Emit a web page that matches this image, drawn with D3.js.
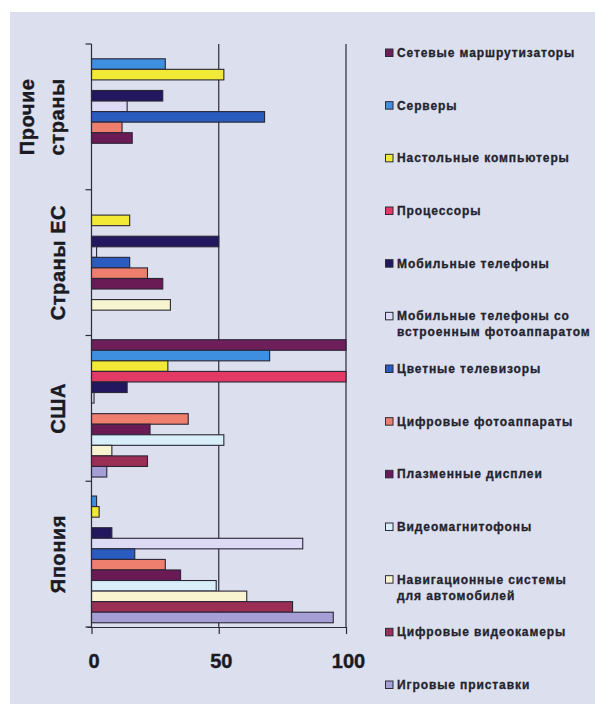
<!DOCTYPE html>
<html>
<head>
<meta charset="utf-8">
<script src="https://cdn.jsdelivr.net/npm/d3@7"></script>
<style>
  html, body { margin: 0; padding: 0; background: #ffffff; }
  svg { display: block; }
</style>
</head>
<body>
<svg id="chart" width="595" height="704"></svg>
<script>
// Regions, listed top to bottom as drawn
const regions = ["Прочие страны", "Страны ЕС", "США", "Япония"];
const regionLines = [["Прочие", "страны"], ["Страны ЕС"], ["США"], ["Япония"]];

// Product groups, in legend order (also top-to-bottom order inside each region)
const products = [
  "Сетевые маршрутизаторы",
  "Серверы",
  "Настольные компьютеры",
  "Процессоры",
  "Мобильные телефоны",
  "Мобильные телефоны со встроенным фотоаппаратом",
  "Цветные телевизоры",
  "Цифровые фотоаппараты",
  "Плазменные дисплеи",
  "Видеомагнитофоны",
  "Навигационные системы для автомобилей",
  "Цифровые видеокамеры",
  "Игровые приставки"
];
const legendLines = [
  ["Сетевые маршрутизаторы"],
  ["Серверы"],
  ["Настольные компьютеры"],
  ["Процессоры"],
  ["Мобильные телефоны"],
  ["Мобильные телефоны со", "встроенным фотоаппаратом"],
  ["Цветные телевизоры"],
  ["Цифровые фотоаппараты"],
  ["Плазменные дисплеи"],
  ["Видеомагнитофоны"],
  ["Навигационные системы", "для автомобилей"],
  ["Цифровые видеокамеры"],
  ["Игровые приставки"]
];
const productColors = [
  "#6e1f5a", "#3f8fe0", "#f2e936", "#e23a64", "#231860", "#dcdaf4", "#2a5cc0",
  "#ee7e6e", "#6a1a55", "#d8eef8", "#f7f4cf", "#9a2e55", "#a59fd6"
];

// Values per product: [Прочие страны, Страны ЕС, США, Япония]
const valRouters     = [0, 0, 100, 0];
const valServers     = [29, 0, 70, 2];
const valDesktops    = [52, 15, 30, 3];
const valProcessors  = [0, 0, 100, 0];
const valMobiles     = [28, 50, 14, 8];
const valCameraPhone = [14, 2, 1, 83];
const valColorTV     = [68, 15, 0, 17];
const valDigiCams    = [12, 22, 38, 29];
const valPlasma      = [16, 28, 23, 35];
const valVCR         = [0, 0, 52, 49];
const valNavigation  = [0, 31, 8, 61];
const valCamcorders  = [0, 0, 22, 79];
const valConsoles    = [0, 0, 6, 95];
const productValues = [valRouters, valServers, valDesktops, valProcessors, valMobiles,
  valCameraPhone, valColorTV, valDigiCams, valPlasma, valVCR, valNavigation,
  valCamcorders, valConsoles];

const xTicks = [0, 50, 100];

const svg = d3.select("#chart");
const W = 595, H = 704;
const FONT = "Liberation Sans, Arial, sans-serif";

// Light panel behind the whole chart
svg.append("rect").attr("x", 10).attr("y", 12).attr("width", W - 10).attr("height", H - 12)
  .attr("fill", "#dcdfed");

const plot = { left: 91.5, right: 346, top: 44, bottom: 627 };

const x = d3.scaleLinear().domain([0, 100]).range([plot.left, plot.right]);
const y0 = d3.scaleBand().domain(regions).range([plot.top, plot.bottom]).padding(0);
const y1 = d3.scaleBand().domain(products).range([0, y0.bandwidth()])
  .paddingInner(0).paddingOuter(0.4);

// Vertical gridlines at 50 and 100
svg.append("g").selectAll("line").data(xTicks.filter(t => t > 0)).join("line")
  .attr("x1", d => x(d)).attr("x2", d => x(d))
  .attr("y1", plot.top).attr("y2", plot.bottom)
  .attr("stroke", "#2b2b3a").attr("stroke-width", 1.2);

// Bars
const rows = [];
regions.forEach((r, ri) => {
  products.forEach((p, pi) => {
    rows.push({ region: r, product: p, value: productValues[pi][ri], color: productColors[pi] });
  });
});
svg.append("g").selectAll("rect").data(rows.filter(d => d.value > 0)).join("rect")
  .attr("x", x(0))
  .attr("y", d => y0(d.region) + y1(d.product))
  .attr("width", d => x(d.value) - x(0))
  .attr("height", y1.bandwidth())
  .attr("fill", d => d.color)
  .attr("stroke", "#2a2636").attr("stroke-width", 1.1);

// Bottom axis
const xAxis = d3.axisBottom(x).tickValues(xTicks).tickSize(7).tickFormat(d3.format("d"));
const gx = svg.append("g").attr("transform", `translate(0,${plot.bottom})`).call(xAxis);
gx.select(".domain").attr("d", `M${plot.left - 4},0.5H${plot.right}`).attr("stroke", "#2b2b3a").attr("stroke-width", 1.2);
gx.selectAll(".tick line").attr("stroke", "#2b2b3a").attr("stroke-width", 1.2);
gx.selectAll(".tick text").attr("y", 27).attr("dy", "0.71em").attr("dx", 2)
  .attr("font-family", FONT).attr("font-weight", "bold")
  .attr("font-size", 20).attr("fill", "#1a1a22")
  .attr("stroke", "#1a1a22").attr("stroke-width", 0.4);

// Left axis: region boundaries
const boundaries = regions.map(r => y0(r)).concat([plot.bottom]);
const gy = svg.append("g");
gy.append("line").attr("x1", x(0)).attr("x2", x(0)).attr("y1", plot.top).attr("y2", plot.bottom)
  .attr("stroke", "#2b2b3a").attr("stroke-width", 1.2);
gy.selectAll("line.tk").data(boundaries).join("line").attr("class", "tk")
  .attr("x1", x(0) - 6).attr("x2", x(0)).attr("y1", d => d).attr("y2", d => d)
  .attr("stroke", "#2b2b3a").attr("stroke-width", 1.2);

// Region labels, rotated
regions.forEach((r, i) => {
  const cy = y0(r) + y0.bandwidth() / 2;
  const lines = regionLines[i];
  const baseX = lines.length === 1 ? [65] : [34, 64];
  lines.forEach((ln, li) => {
    svg.append("text")
      .attr("transform", `translate(${baseX[li]},${cy}) rotate(-90)`)
      .attr("text-anchor", "middle")
      .attr("font-family", FONT)
      .attr("font-weight", "bold").attr("font-size", 20)
      .attr("letter-spacing", 0.6)
      .attr("fill", "#1a1a22").attr("stroke", "#1a1a22").attr("stroke-width", 0.4)
      .text(ln);
  });
});

// Legend
const legendY = d3.scalePoint().domain(products).range([53, 685]);
const lg = svg.append("g");
products.forEach((p, i) => {
  const cy = legendY(p);
  lg.append("rect").attr("x", 385.5).attr("y", cy - 4).attr("width", 7.5).attr("height", 7.5)
    .attr("fill", productColors[i]).attr("stroke", "#2e2a3a").attr("stroke-width", 1);
  legendLines[i].forEach((ln, li) => {
    lg.append("text").attr("x", 397).attr("y", cy + 4 + li * 16)
      .attr("font-family", FONT)
      .attr("font-weight", "bold").attr("font-size", 12)
      .attr("letter-spacing", 0.9)
      .attr("fill", "#23232e").attr("stroke", "#23232e").attr("stroke-width", 0.3)
      .text(ln);
  });
});
</script>
</body>
</html>
